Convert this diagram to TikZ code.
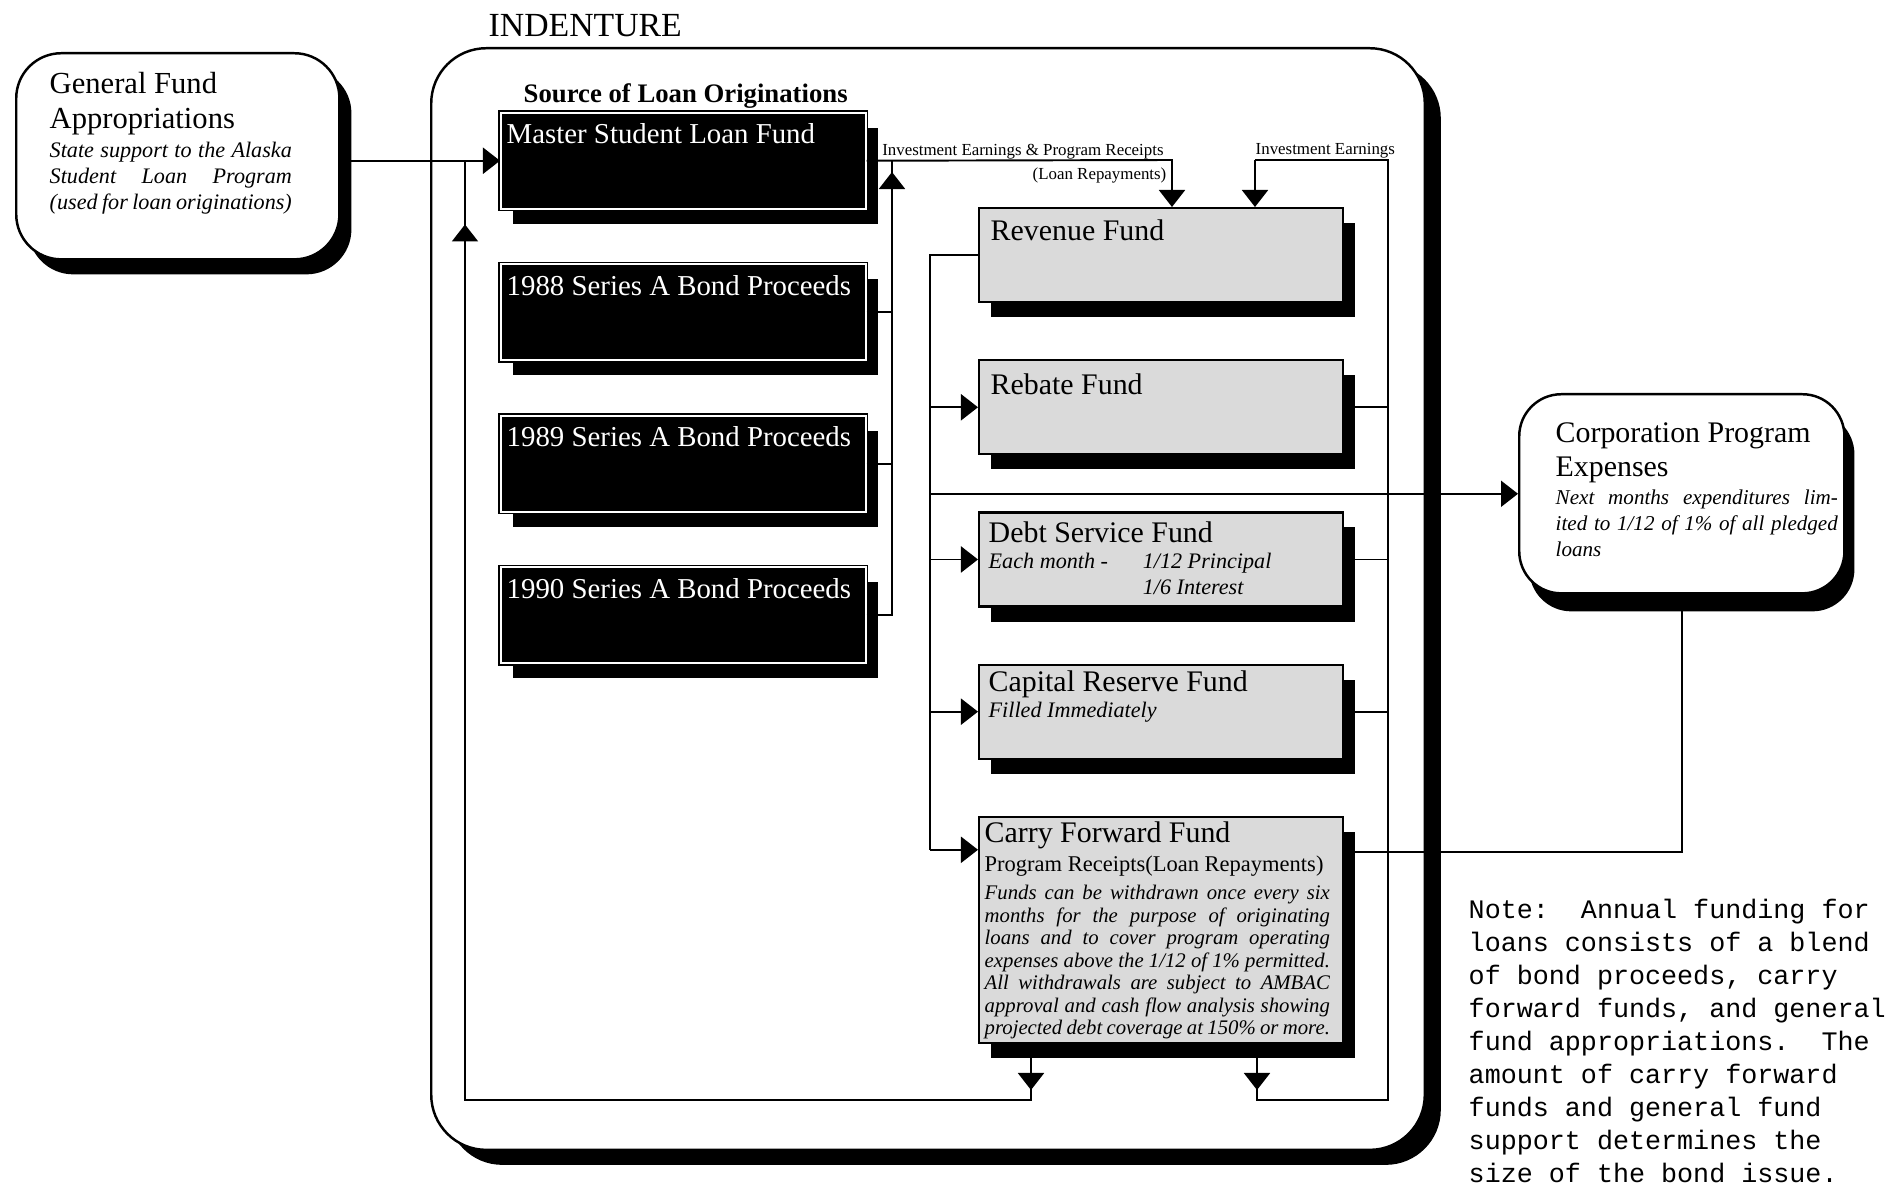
\documentclass[tikz,border=0pt]{standalone}
\usepackage{fontspec}
\setmainfont{Liberation Serif}
\setmonofont{Liberation Mono}
\usetikzlibrary{arrows.meta,positioning,calc,shadows}
\definecolor{FundGray}{RGB}{218,218,218}
\newcommand{\fundhead}{\fontsize{8.5}{9.6}\selectfont}
\newcommand{\smallital}{\fontsize{6.3}{7.4}\selectfont\itshape}

\begin{document}
\begin{tikzpicture}[x=0.01cm,y=-0.01cm,
    >={Triangle[width=0.26cm,length=0.17cm]},
    flow/.style={line width=0.55pt},
    roundbox/.style={draw,fill=white,line width=0.7pt,rounded corners=0.45cm,anchor=north west,inner sep=0pt},
    darkbox/.style={draw=black,double=white,double distance=0.5pt,fill=black,anchor=north west,minimum width=3.65cm,minimum height=0.96cm,inner sep=0pt,drop shadow={shadow xshift=0.12cm,shadow yshift=-0.15cm,fill=black,opacity=1}},
    fundbox/.style={draw,fill=FundGray,line width=0.6pt,minimum width=3.64cm,minimum height=0.94cm,inner sep=0pt,drop shadow={shadow xshift=0.12cm,shadow yshift=-0.15cm,fill=black,opacity=1}},
    boxtext/.style={anchor=north west,inner sep=0pt,align=flush left},
    darktext/.style={boxtext,text=white,font=\fontsize{8.2}{9}\selectfont},
    tinylbl/.style={inner sep=0pt,font=\fontsize{4.8}{5}\selectfont}
  ]
    \useasboundingbox (0,0) rectangle (1890,1188);

    \node[roundbox,minimum width=9.93cm,minimum height=11.01cm,rounded corners=0.55cm,drop shadow={shadow xshift=0.16cm,shadow yshift=-0.15cm,fill=black,opacity=1}] (indent) at (430,47) {};
    \node[anchor=base west,inner sep=0pt,font=\fontsize{9.6}{10}\selectfont] (indentTitle) at (488,37) {INDENTURE};
    \node[anchor=base west,inner sep=0pt,font=\fontsize{7.6}{8}\selectfont\bfseries] (srcTitle) at (523,103) {Source of Loan Originations};

    \node[roundbox,minimum width=3.23cm,minimum height=2.06cm,drop shadow={shadow xshift=0.12cm,shadow yshift=-0.15cm,fill=black,opacity=1}] (gf) at (15,52) {};
    \node[boxtext,text width=2.42cm,align=justify] (gfText) at ($(gf.north west)+(34,20)$) {{\fontsize{8.7}{9.7}\selectfont General Fund\\Appropriations\par}\vspace{1pt}{\smallital State support to the Alaska\linebreak Student Loan Program\linebreak (used for loan originations)\par}};

    \node[darkbox] (master) at (500,112) {};
    \node[darkbox,below=0.54cm of master] (b1988) {};
    \node[darkbox,below=0.54cm of b1988] (b1989) {};
    \node[darkbox,below=0.54cm of b1989] (b1990) {};
    \node[darktext] (masterText) at ($(master.north west)+(6,11)$) {Master Student Loan Fund};
    \node[darktext] (b1988Text) at ($(b1988.north west)+(6,11)$) {1988 Series A Bond Proceeds};
    \node[darktext] (b1989Text) at ($(b1989.north west)+(6,11)$) {1989 Series A Bond Proceeds};
    \node[darktext] (b1990Text) at ($(b1990.north west)+(6,11)$) {1990 Series A Bond Proceeds};

    \node[fundbox,anchor=north west] (rev) at (978,207) {};
    \node[fundbox,below=0.56cm of rev] (rebate) {};
    \node[fundbox,below=0.56cm of rebate] (debt) {};
    \node[fundbox,below=0.56cm of debt] (capital) {};
    \node[fundbox,below=0.56cm of capital,minimum height=2.26cm] (cf) {};
    \node[boxtext] (revText) at ($(rev.north west)+(12,12)$) {\fundhead Revenue Fund};
    \node[boxtext] (rebateText) at ($(rebate.north west)+(12,14)$) {\fundhead Rebate Fund};
    \node[boxtext,text width=3.4cm] (debtText) at ($(debt.north west)+(10,10)$) {{\fundhead Debt Service Fund\par}{\smallital\makebox[1.54cm][l]{Each month -}1/12 Principal\\\hspace*{1.54cm}1/6 Interest\par}};
    \node[boxtext,text width=3.4cm] (capitalText) at ($(capital.north west)+(10,6)$) {{\fundhead Capital Reserve Fund\par}{\smallital Filled Immediately\par}};
    \node[boxtext,text width=3.45cm,align=justify] (cfText) at ($(cf.north west)+(6,5)$) {{\fundhead Carry Forward Fund\par}{\fontsize{6.4}{8.4}\selectfont Program Receipts(Loan Repayments)\par}\vspace{1.5pt}{\fontsize{5.9}{6.4}\selectfont\itshape Funds can be withdrawn once every six\linebreak months for the purpose of originating\linebreak loans and to cover program operating\linebreak expenses above the 1/12 of 1\% permitted.\linebreak All withdrawals are subject to AMBAC\linebreak approval and cash flow analysis showing\linebreak projected debt coverage at 150\% or more.\par}};

    \node[roundbox,minimum width=3.25cm,minimum height=1.99cm,rounded corners=0.42cm,drop shadow={shadow xshift=0.1cm,shadow yshift=-0.18cm,fill=black,opacity=1}] (corp) at (1518,393) {};
    \node[boxtext,text width=2.82cm,align=justify] (corpText) at ($(corp.north west)+(37,29)$) {{\fundhead Corporation Program\\Expenses\par}\vspace{0.5pt}{\fontsize{6}{7.4}\selectfont\itshape Next months expenditures lim-\linebreak ited to 1/12 of 1\% of all pledged\linebreak loans\par}};

    \node[anchor=north west,inner sep=0pt,align=left,font=\ttfamily\fontsize{7.6}{9.4}\selectfont] (note) at (1468,898) {Note:\ \ Annual funding for\\loans consists of a blend\\of bond proceeds, carry\\forward funds, and general\\fund appropriations.\ \ The\\amount of carry forward\\funds and general fund\\support determines the\\size of the bond issue.};

    \coordinate (colTop) at (892,160);
    \coordinate (ieA) at (1172,160);
    \coordinate (ieB) at (1255,160);
    \coordinate (rTop) at (1388,160);
    \coordinate (rBot) at (1388,1100);
    \coordinate (cfR) at (1257,1100);
    \coordinate (cfL) at (1031,1100);
    \coordinate (loopL) at (465,1100);
    \coordinate (dX) at (930,254);
    \coordinate (cfIn) at ($(cf.north west)+(0,34)$);
    \coordinate (cfOut) at ($(cf.north east)+(0,36)$);

    \draw[flow,->] (gf.east |- master.west) -- (master.west);
    \draw[flow] (cf.south -| cfL) -- (cfL) -- (loopL) -- (loopL |- master.west);
    \draw[flow,->] (cf.south -| cfL) -- ($(cfL)+(0,-10)$);
    \draw[flow,->] (loopL) -- ($(loopL |- master.south)+(0,15)$);

    \draw[flow] (b1990.east) -- (b1990.east -| colTop) -- (colTop);
    \draw[flow] (b1988.east) -- (b1988.east -| colTop);
    \draw[flow] (b1989.east) -- (b1989.east -| colTop);
    \draw[flow,->] (b1988.east -| colTop) -- ($(colTop)+(0,12)$);

    \draw[flow,->] (master.east) -- (ieA) -- (ieA |- rev.north);
    \node[tinylbl,anchor=base west] (ieLbl) at ($(master.east)+(15,-5)$) {Investment Earnings \& Program Receipts};
    \node[tinylbl,anchor=east] (loanLbl) at ($(ieA)+(-5,15)$) {(Loan Repayments)};

    \draw[flow] (cf.south -| cfR) -- (cfR) -- (rBot) -- (rTop) -- (ieB);
    \draw[flow,->] (ieB) -- (ieB |- rev.north);
    \draw[flow,->] (cf.south -| cfR) -- ($(cfR)+(0,-10)$);
    \node[tinylbl,anchor=base west] (ie2Lbl) at ($(ieB)+(0,-5)$) {Investment Earnings};
    \foreach \f in {rebate,debt,capital}
      \draw[flow] (\f.east) -- (\f.east -| rTop);

    \draw[flow] (rev.west) -- (rev.west -| dX) -- (dX |- cfIn);
    \draw[flow,->] (dX |- cfIn) -- (cfIn);
    \foreach \f in {rebate,debt,capital}
      \draw[flow,->] (\f.west -| dX) -- (\f.west);
    \draw[flow,->] (dX |- corp.west) -- (corp.west);

    \draw[flow] (cfOut) -- (cfOut -| corp.south) -- (corp.south);
  \end{tikzpicture}
\end{document}
